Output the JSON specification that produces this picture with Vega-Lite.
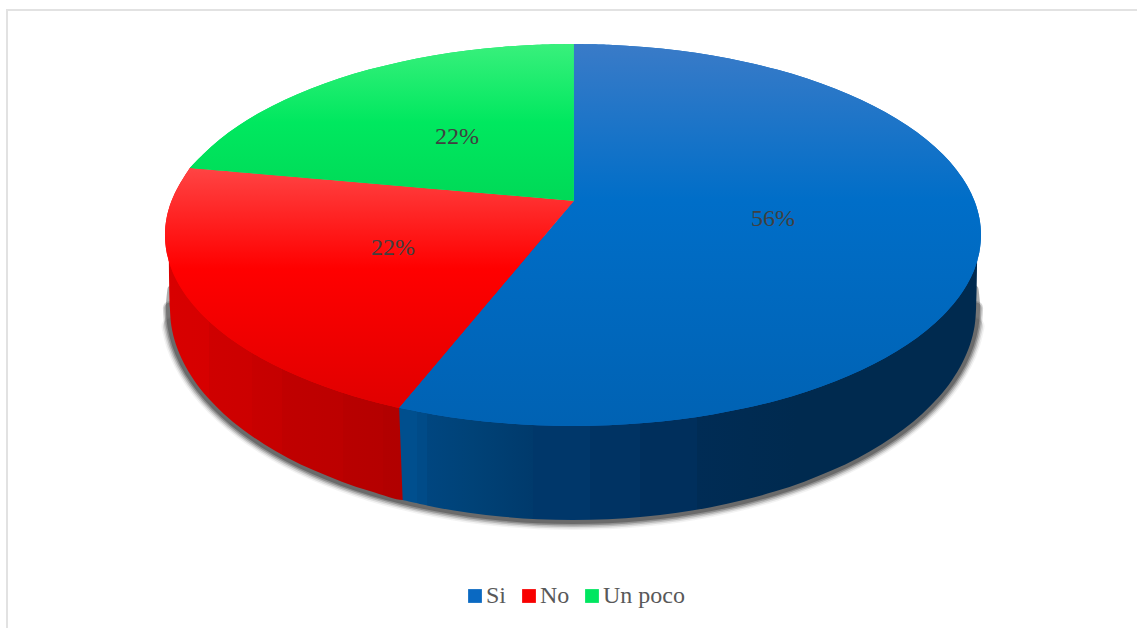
{
"$schema":"https://vega.github.io/schema/vega-lite/v6.json",
"width":1137,"height":628,"padding":0,"autosize":"none","background":"white",
"config":{"view":{"stroke":null},"font":"Liberation Serif"},
"data":{"values":[
{"part":"frame","n":0,"u":-1.3873,"v":-2.0576},{"part":"frame","n":1,"u":-1.3873,"v":1.178},{"part":"frame","n":2,"u":1.3824,"v":1.178},
{"part":"shadow","n":0,"u":0.9842,"v":-0.2852},{"part":"shadow","n":1,"u":0.988,"v":-0.382},{"part":"shadow","n":2,"u":0.9842,"v":-0.4788},{"part":"shadow","n":3,"u":0.973,"v":-0.5747},{"part":"shadow","n":4,"u":0.9543,"v":-0.6693},{"part":"shadow","n":5,"u":0.9284,"v":-0.7616},{"part":"shadow","n":6,"u":0.8954,"v":-0.8511},{"part":"shadow","n":7,"u":0.8556,"v":-0.937},{"part":"shadow","n":8,"u":0.8094,"v":-1.0187},{"part":"shadow","n":9,"u":0.7568,"v":-1.0955},{"part":"shadow","n":10,"u":0.6986,"v":-1.1669},{"part":"shadow","n":11,"u":0.6351,"v":-1.2323},{"part":"shadow","n":12,"u":0.5667,"v":-1.2913},{"part":"shadow","n":13,"u":0.494,"v":-1.3433},{"part":"shadow","n":14,"u":0.4175,"v":-1.388},{"part":"shadow","n":15,"u":0.3379,"v":-1.4251},{"part":"shadow","n":16,"u":0.2557,"v":-1.4541},{"part":"shadow","n":17,"u":0.1715,"v":-1.4751},{"part":"shadow","n":18,"u":0.0862,"v":-1.4878},{"part":"shadow","n":19,"u":0,"v":-1.492},{"part":"shadow","n":20,"u":-0.0862,"v":-1.4878},{"part":"shadow","n":21,"u":-0.1715,"v":-1.4751},{"part":"shadow","n":22,"u":-0.2557,"v":-1.4541},{"part":"shadow","n":23,"u":-0.3379,"v":-1.4251},{"part":"shadow","n":24,"u":-0.4175,"v":-1.388},{"part":"shadow","n":25,"u":-0.494,"v":-1.3433},{"part":"shadow","n":26,"u":-0.5667,"v":-1.2913},{"part":"shadow","n":27,"u":-0.6351,"v":-1.2323},{"part":"shadow","n":28,"u":-0.6986,"v":-1.1669},{"part":"shadow","n":29,"u":-0.7568,"v":-1.0955},{"part":"shadow","n":30,"u":-0.8094,"v":-1.0187},{"part":"shadow","n":31,"u":-0.8556,"v":-0.937},{"part":"shadow","n":32,"u":-0.8954,"v":-0.8511},{"part":"shadow","n":33,"u":-0.9284,"v":-0.7616},{"part":"shadow","n":34,"u":-0.9543,"v":-0.6693},{"part":"shadow","n":35,"u":-0.973,"v":-0.5747},{"part":"shadow","n":36,"u":-0.9842,"v":-0.4788},{"part":"shadow","n":37,"u":-0.988,"v":-0.382},{"part":"shadow","n":38,"u":-0.9842,"v":-0.2852},
{"part":"sideSi","n":0,"u":-0.426,"v":-0.905},{"part":"sideSi","n":0.5,"u":-0.426,"v":-0.905},{"part":"sideSi","n":1,"u":0,"v":0},{"part":"sideSi","n":1.5,"u":0,"v":0},{"part":"sideSi","n":2,"u":0.9905,"v":-0.131},{"part":"sideSi","n":2.5,"u":0.9905,"v":-0.131},{"part":"sideSi","n":3,"u":0.988,"v":-0.382},{"part":"sideSi","n":4,"u":0.9842,"v":-0.4788},{"part":"sideSi","n":5,"u":0.973,"v":-0.5747},{"part":"sideSi","n":6,"u":0.9543,"v":-0.6693},{"part":"sideSi","n":7,"u":0.9284,"v":-0.7616},{"part":"sideSi","n":8,"u":0.8954,"v":-0.8511},{"part":"sideSi","n":9,"u":0.8556,"v":-0.937},{"part":"sideSi","n":10,"u":0.8094,"v":-1.0187},{"part":"sideSi","n":11,"u":0.7568,"v":-1.0955},{"part":"sideSi","n":12,"u":0.6986,"v":-1.1669},{"part":"sideSi","n":13,"u":0.6351,"v":-1.2323},{"part":"sideSi","n":14,"u":0.5667,"v":-1.2913},{"part":"sideSi","n":15,"u":0.494,"v":-1.3433},{"part":"sideSi","n":16,"u":0.4175,"v":-1.388},{"part":"sideSi","n":17,"u":0.3379,"v":-1.4251},{"part":"sideSi","n":18,"u":0.2557,"v":-1.4541},{"part":"sideSi","n":19,"u":0.1715,"v":-1.4751},{"part":"sideSi","n":20,"u":0.0862,"v":-1.4878},{"part":"sideSi","n":21,"u":0,"v":-1.492},{"part":"sideSi","n":22,"u":-0.0862,"v":-1.4878},{"part":"sideSi","n":23,"u":-0.1715,"v":-1.4751},{"part":"sideSi","n":24,"u":-0.2557,"v":-1.4541},{"part":"sideSi","n":25,"u":-0.3379,"v":-1.4251},{"part":"sideSi","n":26,"u":-0.4175,"v":-1.388},
{"part":"sideNo","n":0,"u":-0.41,"v":-0.905},{"part":"sideNo","n":0.5,"u":-0.41,"v":-0.905},{"part":"sideNo","n":1,"u":0,"v":0},{"part":"sideNo","n":1.5,"u":0,"v":0},{"part":"sideNo","n":2,"u":-0.9905,"v":-0.131},{"part":"sideNo","n":2.5,"u":-0.9905,"v":-0.131},{"part":"sideNo","n":3,"u":-0.988,"v":-0.382},{"part":"sideNo","n":4,"u":-0.9842,"v":-0.4788},{"part":"sideNo","n":5,"u":-0.973,"v":-0.5747},{"part":"sideNo","n":6,"u":-0.9543,"v":-0.6693},{"part":"sideNo","n":7,"u":-0.9284,"v":-0.7616},{"part":"sideNo","n":8,"u":-0.8954,"v":-0.8511},{"part":"sideNo","n":9,"u":-0.8556,"v":-0.937},{"part":"sideNo","n":10,"u":-0.8094,"v":-1.0187},{"part":"sideNo","n":11,"u":-0.7568,"v":-1.0955},{"part":"sideNo","n":12,"u":-0.6986,"v":-1.1669},{"part":"sideNo","n":13,"u":-0.6351,"v":-1.2323},{"part":"sideNo","n":14,"u":-0.5667,"v":-1.2913},{"part":"sideNo","n":15,"u":-0.494,"v":-1.3433},{"part":"sideNo","n":16,"u":-0.4175,"v":-1.388},{"part":"sideNo","n":17,"u":-0.405,"v":-1.38},
{"part":"top","slice":"Si","n":0,"u":0.002,"v":0.178},{"part":"top","slice":"Si","n":0.5,"u":0.002,"v":0.178},{"part":"top","slice":"Si","n":1,"u":0.002,"v":1},{"part":"top","slice":"Si","n":1.5,"u":0.002,"v":1},{"part":"top","slice":"Si","n":2,"u":0.0872,"v":0.9962},{"part":"top","slice":"Si","n":3,"u":0.1736,"v":0.9848},{"part":"top","slice":"Si","n":4,"u":0.2588,"v":0.9659},{"part":"top","slice":"Si","n":5,"u":0.342,"v":0.9397},{"part":"top","slice":"Si","n":6,"u":0.4226,"v":0.9063},{"part":"top","slice":"Si","n":7,"u":0.5,"v":0.866},{"part":"top","slice":"Si","n":8,"u":0.5736,"v":0.8192},{"part":"top","slice":"Si","n":9,"u":0.6428,"v":0.766},{"part":"top","slice":"Si","n":10,"u":0.7071,"v":0.7071},{"part":"top","slice":"Si","n":11,"u":0.766,"v":0.6428},{"part":"top","slice":"Si","n":12,"u":0.8192,"v":0.5736},{"part":"top","slice":"Si","n":13,"u":0.866,"v":0.5},{"part":"top","slice":"Si","n":14,"u":0.9063,"v":0.4226},{"part":"top","slice":"Si","n":15,"u":0.9397,"v":0.342},{"part":"top","slice":"Si","n":16,"u":0.9659,"v":0.2588},{"part":"top","slice":"Si","n":17,"u":0.9848,"v":0.1736},{"part":"top","slice":"Si","n":18,"u":0.9962,"v":0.0872},{"part":"top","slice":"Si","n":19,"u":1,"v":0},{"part":"top","slice":"Si","n":20,"u":0.9962,"v":-0.0872},{"part":"top","slice":"Si","n":21,"u":0.9848,"v":-0.1736},{"part":"top","slice":"Si","n":22,"u":0.9659,"v":-0.2588},{"part":"top","slice":"Si","n":23,"u":0.9397,"v":-0.342},{"part":"top","slice":"Si","n":24,"u":0.9063,"v":-0.4226},{"part":"top","slice":"Si","n":25,"u":0.866,"v":-0.5},{"part":"top","slice":"Si","n":26,"u":0.8192,"v":-0.5736},{"part":"top","slice":"Si","n":27,"u":0.766,"v":-0.6428},{"part":"top","slice":"Si","n":28,"u":0.7071,"v":-0.7071},{"part":"top","slice":"Si","n":29,"u":0.6428,"v":-0.766},{"part":"top","slice":"Si","n":30,"u":0.5736,"v":-0.8192},{"part":"top","slice":"Si","n":31,"u":0.5,"v":-0.866},{"part":"top","slice":"Si","n":32,"u":0.4226,"v":-0.9063},{"part":"top","slice":"Si","n":33,"u":0.342,"v":-0.9397},{"part":"top","slice":"Si","n":34,"u":0.2588,"v":-0.9659},{"part":"top","slice":"Si","n":35,"u":0.1736,"v":-0.9848},{"part":"top","slice":"Si","n":36,"u":0.0872,"v":-0.9962},{"part":"top","slice":"Si","n":37,"u":0,"v":-1},{"part":"top","slice":"Si","n":38,"u":-0.0872,"v":-0.9962},{"part":"top","slice":"Si","n":39,"u":-0.1736,"v":-0.9848},{"part":"top","slice":"Si","n":40,"u":-0.2588,"v":-0.9659},{"part":"top","slice":"Si","n":41,"u":-0.342,"v":-0.9397},{"part":"top","slice":"Si","n":42,"u":-0.426,"v":-0.905},
{"part":"top","slice":"No","n":0,"u":0.002,"v":0.178},{"part":"top","slice":"No","n":0.5,"u":0.002,"v":0.178},{"part":"top","slice":"No","n":1,"u":-0.426,"v":-0.905},{"part":"top","slice":"No","n":1.5,"u":-0.426,"v":-0.905},{"part":"top","slice":"No","n":2,"u":-0.5,"v":-0.866},{"part":"top","slice":"No","n":3,"u":-0.5736,"v":-0.8192},{"part":"top","slice":"No","n":4,"u":-0.6428,"v":-0.766},{"part":"top","slice":"No","n":5,"u":-0.7071,"v":-0.7071},{"part":"top","slice":"No","n":6,"u":-0.766,"v":-0.6428},{"part":"top","slice":"No","n":7,"u":-0.8192,"v":-0.5736},{"part":"top","slice":"No","n":8,"u":-0.866,"v":-0.5},{"part":"top","slice":"No","n":9,"u":-0.9063,"v":-0.4226},{"part":"top","slice":"No","n":10,"u":-0.9397,"v":-0.342},{"part":"top","slice":"No","n":11,"u":-0.9659,"v":-0.2588},{"part":"top","slice":"No","n":12,"u":-0.9848,"v":-0.1736},{"part":"top","slice":"No","n":13,"u":-0.9962,"v":-0.0872},{"part":"top","slice":"No","n":14,"u":-1,"v":0},{"part":"top","slice":"No","n":15,"u":-0.9962,"v":0.0872},{"part":"top","slice":"No","n":16,"u":-0.9848,"v":0.1736},{"part":"top","slice":"No","n":17,"u":-0.9659,"v":0.2588},{"part":"top","slice":"No","n":18,"u":-0.939,"v":0.351},
{"part":"top","slice":"Un poco","n":0,"u":0.002,"v":0.178},{"part":"top","slice":"Un poco","n":0.5,"u":0.002,"v":0.178},{"part":"top","slice":"Un poco","n":1,"u":-0.939,"v":0.351},{"part":"top","slice":"Un poco","n":1.5,"u":-0.939,"v":0.351},{"part":"top","slice":"Un poco","n":2,"u":-0.9063,"v":0.4226},{"part":"top","slice":"Un poco","n":3,"u":-0.866,"v":0.5},{"part":"top","slice":"Un poco","n":4,"u":-0.8192,"v":0.5736},{"part":"top","slice":"Un poco","n":5,"u":-0.766,"v":0.6428},{"part":"top","slice":"Un poco","n":6,"u":-0.7071,"v":0.7071},{"part":"top","slice":"Un poco","n":7,"u":-0.6428,"v":0.766},{"part":"top","slice":"Un poco","n":8,"u":-0.5736,"v":0.8192},{"part":"top","slice":"Un poco","n":9,"u":-0.5,"v":0.866},{"part":"top","slice":"Un poco","n":10,"u":-0.4226,"v":0.9063},{"part":"top","slice":"Un poco","n":11,"u":-0.342,"v":0.9397},{"part":"top","slice":"Un poco","n":12,"u":-0.2588,"v":0.9659},{"part":"top","slice":"Un poco","n":13,"u":-0.1736,"v":0.9848},{"part":"top","slice":"Un poco","n":14,"u":-0.0872,"v":0.9962},{"part":"top","slice":"Un poco","n":15,"u":0.002,"v":1}
]},
"encoding":{
"x":{"field":"u","type":"quantitative","axis":null,"scale":{"domain":[-1.4044,1.3824],"nice":false,"zero":false}},
"y":{"field":"v","type":"quantitative","axis":null,"scale":{"domain":[-2.0576,1.2304],"nice":false,"zero":false}},
"order":{"field":"n","type":"quantitative"}
},
"layer":[
{"transform":[{"filter":"datum.part==='frame'"}],"mark":{"type":"line","stroke":"#e2e2e2","strokeWidth":2,"clip":false}},
{"transform":[{"filter":"datum.part==='shadow' && datum.n>=2 && datum.n<=36"}],"mark":{"type":"line","interpolate":"catmull-rom","stroke":"#333333","strokeWidth":20,"strokeCap":"round","opacity":0.06}},
{"transform":[{"filter":"datum.part==='shadow' && datum.n>=2 && datum.n<=36"}],"mark":{"type":"line","interpolate":"catmull-rom","stroke":"#333333","strokeWidth":17,"strokeCap":"round","opacity":0.12}},
{"transform":[{"filter":"datum.part==='shadow' && datum.n>=1 && datum.n<=37"}],"mark":{"type":"line","interpolate":"catmull-rom","stroke":"#333333","strokeWidth":14,"strokeCap":"round","opacity":0.2}},
{"transform":[{"filter":"datum.part==='shadow' && datum.n>=1 && datum.n<=37"}],"mark":{"type":"line","interpolate":"catmull-rom","stroke":"#333333","strokeWidth":11,"strokeCap":"round","opacity":0.3}},
{"transform":[{"filter":"datum.part==='shadow'"}],"mark":{"type":"line","interpolate":"catmull-rom","stroke":"#333333","strokeWidth":8,"strokeCap":"round","opacity":0.4}},
{"transform":[{"filter":"datum.part==='sideNo'"}],"mark":{"type":"line","interpolate":"catmull-rom","strokeWidth":0,"fill":{"gradient":"linear","x1":0,"y1":0,"x2":1,"y2":0,"stops":[{"offset":0,"color":"#d80000"},{"offset":0.1,"color":"#d60000"},{"offset":0.1,"color":"#cf0000"},{"offset":0.205,"color":"#cc0000"},{"offset":0.205,"color":"#c80000"},{"offset":0.28,"color":"#c50000"},{"offset":0.28,"color":"#c00000"},{"offset":0.43,"color":"#bc0000"},{"offset":0.43,"color":"#b80000"},{"offset":0.53,"color":"#b50000"},{"offset":0.53,"color":"#b20000"},{"offset":0.62,"color":"#b00000"},{"offset":0.62,"color":"#ac0000"},{"offset":0.8,"color":"#a80000"},{"offset":0.8,"color":"#a50000"},{"offset":0.91,"color":"#a20000"},{"offset":0.91,"color":"#9e0000"},{"offset":1,"color":"#9e0000"}]}}},
{"transform":[{"filter":"datum.part==='sideSi'"}],"mark":{"type":"line","interpolate":"catmull-rom","strokeWidth":0,"fill":{"gradient":"linear","x1":0,"y1":0,"x2":1,"y2":0,"stops":[{"offset":0,"color":"#004f8e"},{"offset":0.031,"color":"#004f8e"},{"offset":0.031,"color":"#004b88"},{"offset":0.048,"color":"#004b88"},{"offset":0.048,"color":"#004680"},{"offset":0.126,"color":"#004277"},{"offset":0.231,"color":"#003a6c"},{"offset":0.231,"color":"#00376a"},{"offset":0.33,"color":"#00376a"},{"offset":0.33,"color":"#003363"},{"offset":0.416,"color":"#003363"},{"offset":0.416,"color":"#002f5c"},{"offset":0.515,"color":"#002f5c"},{"offset":0.515,"color":"#002c55"},{"offset":0.69,"color":"#002a4f"},{"offset":1,"color":"#002a4f"}]}}},
{"transform":[{"filter":"datum.part==='top'"}],"mark":{"type":"line","interpolate":"catmull-rom","strokeWidth":0,"filled":true},
"encoding":{"fill":{"field":"slice","type":"nominal","sort":["Si","No","Un poco"],
"scale":{"domain":["Si","No","Un poco"],"range":["#0a69c2","#f80000","#00e660"]},
"legend":{"title":null,"orient":"none","legendX":463,"legendY":584,"direction":"horizontal","symbolType":"square","symbolSize":190,"symbolStrokeWidth":0,"labelFont":"Liberation Serif","labelFontSize":24,"labelColor":"#595959","labelOffset":-1,"columnPadding":10,"padding":0}}}},
{"transform":[{"filter":"datum.slice==='Si'"}],"mark":{"type":"line","interpolate":"catmull-rom","strokeWidth":0,"fill":{"gradient":"linear","x1":0,"y1":0,"x2":0,"y2":1,"stops":[{"offset":0,"color":"#3a7bc8"},{"offset":0.41,"color":"#006ec8"},{"offset":1,"color":"#0062b3"}]}}},
{"transform":[{"filter":"datum.slice==='No'"}],"mark":{"type":"line","interpolate":"catmull-rom","strokeWidth":0,"fill":{"gradient":"linear","x1":0,"y1":0,"x2":0,"y2":1,"stops":[{"offset":0,"color":"#ff4444"},{"offset":0.42,"color":"#ff0000"},{"offset":1,"color":"#e00000"}]}}},
{"transform":[{"filter":"datum.slice==='Un poco'"}],"mark":{"type":"line","interpolate":"catmull-rom","strokeWidth":0,"fill":{"gradient":"linear","x1":0,"y1":0,"x2":0,"y2":1,"stops":[{"offset":0,"color":"#39f07c"},{"offset":0.5,"color":"#00e85f"},{"offset":1,"color":"#00d957"}]}}},
{"data":{"values":[{"slice":"Si","share":0.56,"u":0.49,"v":0.084},{"slice":"No","share":0.22,"u":-0.441,"v":-0.068},{"slice":"Un poco","share":0.22,"u":-0.284,"v":0.513}]},
"mark":{"type":"text","font":"Liberation Serif","fontSize":24,"color":"#404040","baseline":"middle"},
"encoding":{"text":{"field":"share","type":"quantitative","format":".0%"},"order":null}}
]
}
